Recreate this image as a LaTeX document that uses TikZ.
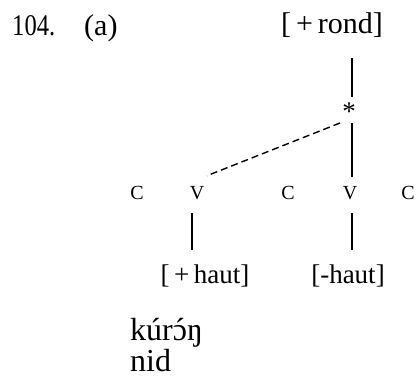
\documentclass[tikz,border=0pt]{standalone}
\usepackage{fontspec}
\setmainfont{Liberation Serif}
\newcommand\accO{\setbox0\hbox{ɔ}\hbox to\wd0{\hss ´\hss}\kern-\wd0\box0}
\begin{document}
\begin{tikzpicture}[x=1pt,y=1pt,
  big/.style={inner sep=0pt,font=\fontsize{30}{33}\selectfont},
  feat/.style={inner sep=0pt,font=\fontsize{27}{30}\selectfont},
  word/.style={inner sep=0pt,font=\fontsize{32}{36}\selectfont},
  small/.style={inner sep=0pt,font=\fontsize{20}{22}\selectfont},
  link/.style={line width=1.7pt},
  dlink/.style={line width=1.4pt,dash pattern=on 7pt off 4pt}]
\useasboundingbox (0,0) rectangle (419,381);
\node[big,anchor=base west] (num) at (12,345) {\scalebox{0.82}[1]{104.}};
\node[big,anchor=base west] (lab) at (84,345) {(a)};
\node[big,anchor=base] (rond) at (332,347) {[\,+\,rond]};
\node[big,anchor=base,font=\fontsize{27}{30}\selectfont] (star) at (349,261) {*};
\node[small,anchor=base] (c1) at (137,182) {C};
\node[small,anchor=base] (v1) at (197,182) {V};
\node[small,anchor=base] (c2) at (288,182) {C};
\node[small,anchor=base] (v2) at (350,182) {V};
\node[small,anchor=base] (c3) at (408,182) {C};
\node[feat,anchor=base] (h1) at (205,98) {[\,+\,haut]};
\node[feat,anchor=base] (h2) at (348,98) {[-haut]};
\node[word,anchor=base west] (w1) at (130,41) {kúr\accO ŋ};
\node[word,anchor=base west] (w2) at (130,10) {nid};
\draw[link] ([xshift=20pt]rond.south |- 0,323) coordinate (r1) -- (r1 |- 0,284);
\draw[link] ([shift={(3pt,-3pt)}]star.base) -- ([shift={(2pt,9pt)}]v2.north);
\draw[dlink] ([shift={(-9pt,-3pt)}]star.base) -- ([shift={(10pt,10pt)}]v1.north);
\draw[link] ([shift={(-5pt,-14pt)}]v1.base) -- ([shift={(-13pt,14pt)}]h1.north);
\draw[link] ([shift={(2pt,-14pt)}]v2.base) -- ([shift={(4pt,14pt)}]h2.north);
\end{tikzpicture}
\end{document}
